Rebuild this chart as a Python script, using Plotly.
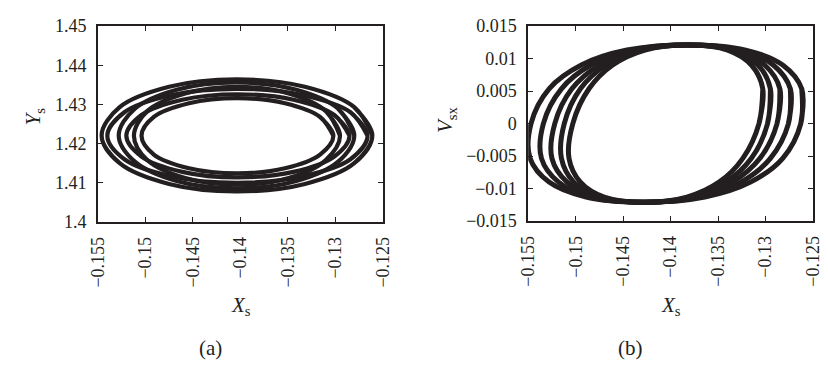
import plotly.graph_objects as go

INK = "#231f20"
FONT = "Liberation Serif"

# ---------------- Panel (a): Xs vs Ys ----------------
xs_ticks = [-0.155, -0.15, -0.145, -0.14, -0.135, -0.13, -0.125]
xs_ticktext = ["\u22120.155", "\u22120.15", "\u22120.145", "\u22120.14", "\u22120.135", "\u22120.13", "\u22120.125"]
ys_ticks = [1.40, 1.41, 1.42, 1.43, 1.44, 1.45]
ys_ticktext = ["1.4", "1.41", "1.42", "1.43", "1.44", "1.45"]

a_loop1_x = [-0.1261, -0.1280, -0.1332, -0.1404, -0.1475, -0.1527, -0.1546, -0.1527, -0.1475, -0.1404, -0.1332, -0.1280]
a_loop1_y = [1.4221, 1.4293, 1.4345, 1.4364, 1.4345, 1.4293, 1.4221, 1.4150, 1.4097, 1.4078, 1.4097, 1.4150]
a_loop2_x = [-0.1266, -0.1284, -0.1335, -0.1403, -0.1472, -0.1522, -0.1540, -0.1522, -0.1472, -0.1403, -0.1335, -0.1284]
a_loop2_y = [1.4220, 1.4280, 1.4324, 1.4340, 1.4324, 1.4280, 1.4220, 1.4160, 1.4116, 1.4100, 1.4116, 1.4160]
a_loop3_x = [-0.1280, -0.1297, -0.1342, -0.1404, -0.1466, -0.1511, -0.1528, -0.1511, -0.1466, -0.1404, -0.1342, -0.1297]
a_loop3_y = [1.4221, 1.4289, 1.4338, 1.4356, 1.4338, 1.4289, 1.4221, 1.4154, 1.4104, 1.4086, 1.4104, 1.4154]
a_loop4_x = [-0.1285, -0.1301, -0.1344, -0.1403, -0.1461, -0.1504, -0.1520, -0.1504, -0.1461, -0.1403, -0.1344, -0.1301]
a_loop4_y = [1.4220, 1.4273, 1.4312, 1.4326, 1.4312, 1.4273, 1.4220, 1.4167, 1.4128, 1.4114, 1.4128, 1.4167]
a_loop5_x = [-0.1295, -0.1310, -0.1349, -0.1404, -0.1458, -0.1498, -0.1512, -0.1498, -0.1458, -0.1404, -0.1349, -0.1310]
a_loop5_y = [1.4220, 1.4283, 1.4328, 1.4345, 1.4328, 1.4283, 1.4220, 1.4158, 1.4112, 1.4095, 1.4112, 1.4158]
a_loop6_x = [-0.1302, -0.1316, -0.1353, -0.1403, -0.1454, -0.1491, -0.1504, -0.1491, -0.1454, -0.1403, -0.1353, -0.1316]
a_loop6_y = [1.4220, 1.4268, 1.4303, 1.4316, 1.4303, 1.4268, 1.4220, 1.4172, 1.4137, 1.4124, 1.4137, 1.4172]

# ---------------- Panel (b): Xs vs Vsx ----------------
vsx_ticks = [-0.015, -0.01, -0.005, 0, 0.005, 0.01, 0.015]
vsx_ticktext = ["\u22120.015", "\u22120.01", "\u22120.005", "0", "0.005", "0.01", "0.015"]

b_loop_y = [0.0, 0.00535, 0.00901, 0.01131, 0.0121, 0.01131, 0.00901, 0.00535,
            0.0, -0.00535, -0.00901, -0.01131, -0.0121, -0.01131, -0.00901, -0.00535]
b_loop1_x = [-0.1263, -0.1262, -0.1282, -0.1321, -0.1382, -0.1446, -0.1494, -0.1528,
             -0.1547, -0.1548, -0.1528, -0.1489, -0.1428, -0.1364, -0.1316, -0.1282]
b_loop2_x = [-0.1276, -0.1274, -0.1292, -0.1327, -0.1382, -0.1441, -0.1484, -0.1515,
             -0.1534, -0.1536, -0.1518, -0.1484, -0.1428, -0.1370, -0.1326, -0.1295]
b_loop3_x = [-0.1288, -0.1285, -0.1301, -0.1332, -0.1382, -0.1435, -0.1475, -0.1504,
             -0.1522, -0.1525, -0.1509, -0.1478, -0.1428, -0.1375, -0.1335, -0.1306]
b_loop4_x = [-0.1298, -0.1295, -0.1308, -0.1336, -0.1382, -0.1431, -0.1468, -0.1495,
             -0.1512, -0.1515, -0.1502, -0.1474, -0.1428, -0.1379, -0.1342, -0.1315]
b_loop5_x = [-0.1307, -0.1303, -0.1315, -0.1340, -0.1382, -0.1427, -0.1461, -0.1486,
             -0.1503, -0.1507, -0.1495, -0.1470, -0.1428, -0.1383, -0.1349, -0.1324]

a_loops = [(a_loop1_x, a_loop1_y), (a_loop2_x, a_loop2_y), (a_loop3_x, a_loop3_y),
           (a_loop4_x, a_loop4_y), (a_loop5_x, a_loop5_y), (a_loop6_x, a_loop6_y)]
b_loops = [(b_loop1_x, b_loop_y), (b_loop2_x, b_loop_y), (b_loop3_x, b_loop_y),
           (b_loop4_x, b_loop_y), (b_loop5_x, b_loop_y)]

fig = go.Figure()


def closed(v):
    return list(v) + list(v[:2])


for lx, ly in a_loops:
    fig.add_trace(go.Scatter(x=closed(lx), y=closed(ly), mode="lines", xaxis="x", yaxis="y",
                             line=dict(color=INK, width=4.2, shape="spline", smoothing=1.0),
                             hoverinfo="skip"))
for lx, ly in b_loops:
    fig.add_trace(go.Scatter(x=closed(lx), y=closed(ly), mode="lines", xaxis="x2", yaxis="y2",
                             line=dict(color=INK, width=5.0, shape="spline", smoothing=1.0),
                             hoverinfo="skip"))

W, H = 828, 373


def fx(px):
    return px / W


def fy(py):
    return 1 - py / H


axis_common = dict(showgrid=False, zeroline=False, showline=True, linecolor=INK, linewidth=1.5,
                   mirror="ticks", ticks="inside", ticklen=5, tickwidth=1, tickcolor=INK,
                   tickfont=dict(family=FONT, size=18, color=INK))

fig.update_layout(
    width=W, height=H, margin=dict(l=0, r=0, t=0, b=0),
    paper_bgcolor="white", plot_bgcolor="white", showlegend=False,
    xaxis=dict(axis_common, domain=[fx(90), fx(382)], range=[-0.155, -0.125],
               tickvals=xs_ticks, ticktext=xs_ticktext, tickangle=-90, anchor="y",
               ticklabelstandoff=6),
    yaxis=dict(axis_common, domain=[fy(224), fy(17)], range=[1.40, 1.45],
               tickvals=ys_ticks, ticktext=ys_ticktext, anchor="x", ticklabelstandoff=6),
    xaxis2=dict(axis_common, domain=[fx(531), fx(823)], range=[-0.155, -0.125],
                tickvals=xs_ticks, ticktext=xs_ticktext, tickangle=-90, anchor="y2",
                ticklabelstandoff=6),
    yaxis2=dict(axis_common, domain=[fy(223), fy(17)], range=[-0.015, 0.015],
                tickvals=vsx_ticks, ticktext=vsx_ticktext, anchor="x2", ticklabelstandoff=6),
)

anns = [
    dict(text="<i>X</i><sub>s</sub>", x=fx(237), y=fy(313)),
    dict(text="<i>X</i><sub>s</sub>", x=fx(677), y=fy(313)),
    dict(text="<i>Y</i><sub>s</sub>", x=fx(25), y=fy(112), textangle=-90),
    dict(text="<i>V</i><sub>sx</sub>", x=fx(447), y=fy(116), textangle=-90),
    dict(text="(a)", x=fx(205), y=fy(357)),
    dict(text="(b)", x=fx(636), y=fy(357)),
]
for a in anns:
    a.update(xref="paper", yref="paper", showarrow=False, xanchor="center", yanchor="middle",
             font=dict(family=FONT, size=21, color=INK))
    fig.add_annotation(**a)

fig.write_html("out.html")
